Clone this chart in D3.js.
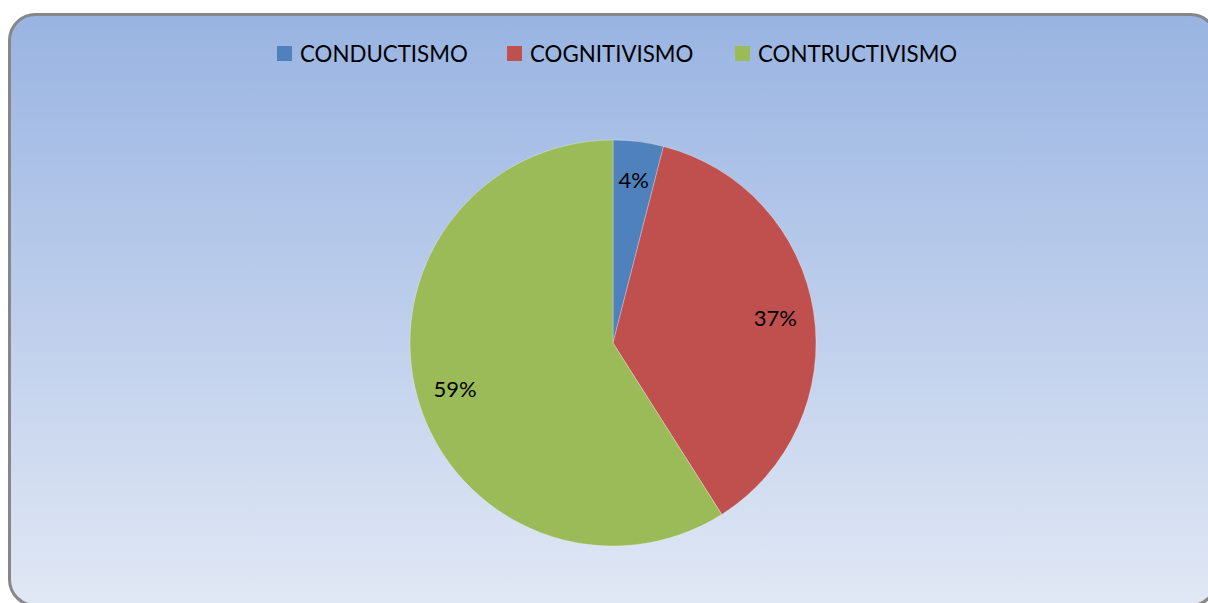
<!DOCTYPE html>
<html>
<head>
<meta charset="utf-8">
<script src="https://cdn.jsdelivr.net/npm/d3@7"></script>
<style>
  html, body { margin: 0; padding: 0; background: #ffffff; }
  svg { display: block; }
</style>
</head>
<body>
<svg id="chart" width="1208" height="603"></svg>
<script>
// Chart data
const categories = ["CONDUCTISMO", "COGNITIVISMO", "CONTRUCTIVISMO"];
const values = [4, 37, 59];
const colors = ["#4f81bd", "#c0504d", "#9bbb59"];

const svg = d3.select("#chart");

// Background panel gradient
const defs = svg.append("defs");
const grad = defs.append("linearGradient")
  .attr("id", "bg").attr("x1", 0).attr("y1", 0).attr("x2", 0).attr("y2", 1);
grad.append("stop").attr("offset", "0%").attr("stop-color", "#99b4e2");
grad.append("stop").attr("offset", "100%").attr("stop-color", "#e1e8f5");

svg.append("rect")
  .attr("x", 9.5).attr("y", 14.5)
  .attr("width", 1207).attr("height", 591)
  .attr("rx", 26).attr("ry", 26)
  .attr("fill", "url(#bg)")
  .attr("stroke", "#878787")
  .attr("stroke-width", 3);

// Legend
const legendX = [277, 507, 735];
const legend = svg.append("g");
categories.forEach((c, i) => {
  const g = legend.append("g").attr("transform", `translate(${legendX[i]},46)`);
  g.append("rect").attr("width", 15).attr("height", 15).attr("fill", colors[i]);
  g.append("text")
    .attr("x", 23).attr("y", 7.5)
    .attr("dominant-baseline", "central")
    .attr("font-family", "Lato, 'Open Sans', sans-serif")
    .attr("font-size", 22.3)
    .attr("fill", "#000")
    .text(c);
});

// Pie
const cx = 613, cy = 343, r = 203;
const pie = d3.pie().sort(null).value(d => d);
const arcs = pie(values);
const arc = d3.arc().innerRadius(0).outerRadius(r);
const labelArc = d3.arc().innerRadius(r * 0.81).outerRadius(r * 0.81);
const total = d3.sum(values);

const g = svg.append("g").attr("transform", `translate(${cx},${cy})`);
g.selectAll("path.slice")
  .data(arcs)
  .join("path")
  .attr("class", "slice")
  .attr("d", arc)
  .attr("fill", (d, i) => colors[i])
  .attr("stroke", "rgba(255,255,255,0.35)")
  .attr("stroke-width", 0.8);

g.selectAll("text.lbl")
  .data(arcs)
  .join("text")
  .attr("class", "lbl")
  .attr("transform", d => `translate(${labelArc.centroid(d)})`)
  .attr("text-anchor", "middle")
  .attr("dominant-baseline", "central")
  .attr("font-family", "Lato, 'Open Sans', sans-serif")
  .attr("font-size", 22)
  .attr("fill", "#000")
  .text(d => Math.round(d.data / total * 100) + "%");
</script>
</body>
</html>
